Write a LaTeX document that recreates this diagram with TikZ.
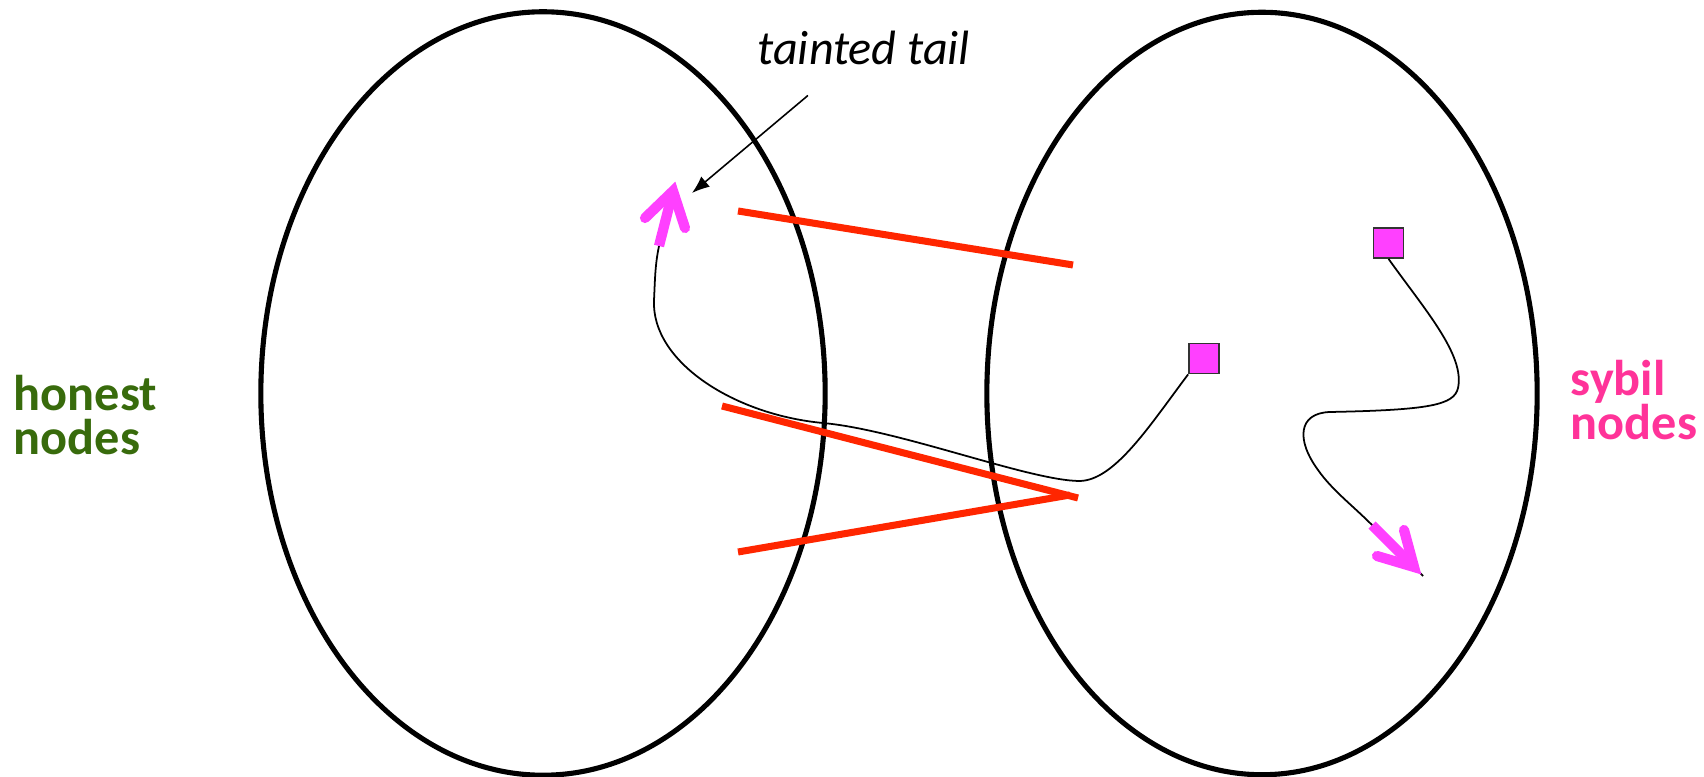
\documentclass[tikz,border=0pt]{standalone}
\usepackage{fontspec}
\setmainfont{Carlito}
\usetikzlibrary{arrows.meta}

\definecolor{honestgreen}{RGB}{56,107,12}
\definecolor{sybilpink}{RGB}{255,51,153}
\definecolor{tailmagenta}{RGB}{255,64,255}
\definecolor{edgered}{RGB}{255,38,0}

\tikzset{
  region/.style={line width=1.45pt},
  attack/.style={line width=2pt, edgered},
  walk/.style={line width=0.5pt},
  sybilbox/.style={draw=black!80, fill=tailmagenta, line width=0.5pt, minimum size=0.3cm, inner sep=0pt},
  tailarrow/.style={line width=2.9pt, tailmagenta, line join=miter},
  pointer/.style={line width=0.45pt, -{Latex[length=5pt,width=3.8pt]}},
  lbl/.style={inner sep=0pt, font=\fontsize{14.3}{12.4}\selectfont\bfseries, align=left}
}

\begin{document}
\begin{tikzpicture}[x=0.01cm, y=-0.01cm]
        \useasboundingbox (0,0) rectangle (1704,777);

            %regioni
            \draw[region] (543,393.5) ellipse [x radius=2.82cm, y radius=3.815cm];
            \draw[region] (1262,393.5) ellipse [x radius=2.75cm, y radius=3.81cm];

            %label regioni
            \node[lbl, text=honestgreen, anchor=north west] (honest) at (13,375) {honest\\nodes};
            \node[lbl, text=sybilpink, anchor=north west] (sybil) at (1570,360) {sybil\\nodes};

            %archi d'attacco
            \coordinate (e1a) at (738,211); \coordinate (e1b) at (1073,265);
            \coordinate (e2a) at (722,406); \coordinate (e2b) at (1078,498);
            \coordinate (e3a) at (738,552); \coordinate (e3b) at (1070,495);
            \draw[attack] (e1a)--(e1b);
            \draw[attack] (e2a)--(e2b);
            \draw[attack] (e3a)--(e3b);

            %nodi sybil
            \node[sybilbox] (s1) at (1204,358.5) {};
            \node[sybilbox] (s2) at (1388.5,243) {};

            %random walk verso i nodi onesti
            \coordinate (t1) at (659,246); \coordinate (t1tip) at (673,191);
            \draw[walk] (s1.south west) .. controls (1150,425) and (1115,480) .. (1080,481)
                .. controls (1030,481) and (900,430) .. (823,423)
                .. controls (735,415) and (651,362) .. (654,300)
                .. controls (655,280) and (655,265) .. (t1);
            \draw[tailarrow] (t1)--(t1tip);
            \draw[tailarrow, line cap=round] (645,218)--(t1tip)--(685,228);

            %random walk tra i sybil
            \coordinate (t2) at (1372,525); \coordinate (t2tip) at (1414,567);
            \draw[walk] (s2.south) .. controls (1425,310) and (1465,355) .. (1458,388)
                .. controls (1454,405) and (1430,410) .. (1330,412)
                .. controls (1298,413) and (1296,440) .. (1318,470)
                .. controls (1332,490) and (1352,505) .. (t2) -- (1423,576);
            \draw[tailarrow] (t2)--(t2tip);
            \draw[tailarrow, line cap=round] (1377,556)--(t2tip)--(1404,530);

            %freccia e label
            \node[inner sep=0pt, font=\fontsize{13.7}{16}\selectfont\itshape, anchor=base west] (tt) at (757,65) {tainted tail};
            \coordinate (ttip) at (692,193);
            \draw[pointer, shorten <=13pt] (tt) -- (ttip);
\end{tikzpicture}
\end{document}
